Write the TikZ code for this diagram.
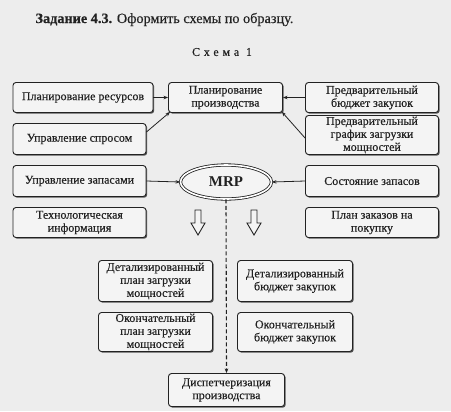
\documentclass[tikz,border=0pt]{standalone}
\usepackage{fontspec}
\setmainfont{Liberation Serif}
\usetikzlibrary{arrows.meta,shapes.geometric,shadows}
\definecolor{paper}{HTML}{EDEDED}
\definecolor{boxfill}{HTML}{F4F4F4}
\definecolor{ink}{HTML}{222222}
\tikzset{
  box/.style={draw=ink, line width=0.9bp, rounded corners=3bp, fill=boxfill,
    align=center, inner sep=0pt, text=ink,
    font=\fontsize{12}{13}\selectfont\addfontfeature{FakeBold=0.4},
    drop shadow={shadow xshift=1.2bp, shadow yshift=-1.2bp, opacity=0.75, fill=ink}},
  conn/.style={draw=ink, line width=0.8bp, -{Stealth[length=4.5bp,width=3.5bp]}},
  hollow/.style={draw=ink, line width=0.9bp, fill=boxfill, line join=miter},
}
\begin{document}
\begin{tikzpicture}[x=1bp,y=-1bp]
\fill[paper] (0,0) rectangle (451,411);
\useasboundingbox (0,0) rectangle (451,411);

\node[anchor=base west, text=ink, font=\fontsize{14.3}{16}\selectfont\addfontfeature{FakeBold=0.3}] (title) at (32,23)
  {\textbf{Задание 4.3.} Оформить схемы по образцу.};
\node[text=ink, font=\fontsize{12}{13}\selectfont\addfontfeature{LetterSpace=32,FakeBold=0.3}] (schema) at (222,52) {Схема 1};

% left column
\node[box, minimum width=140bp, minimum height=30bp] (res) at (83,97.5) {Планирование ресурсов};
\node[box, minimum width=133bp, minimum height=31bp] (demand) at (79.5,139) {Управление спросом};
\node[box, minimum width=133bp, minimum height=31bp] (stock) at (79.5,181) {Управление запасами};
\node[box, minimum width=133bp, minimum height=30bp] (tech) at (79.5,222.5) {Технологическая\\информация};

% centre
\node[box, minimum width=114bp, minimum height=30bp] (prod) at (225.5,97.5) {Планирование\\производства};
\node[draw=ink, ellipse, double, double distance=1.6bp, line width=0.8bp, fill=boxfill,
  minimum width=91bp, minimum height=34bp, inner sep=0pt,
  font=\fontsize{15}{17}\selectfont\bfseries, text=ink] (mrp) at (226,182) {MRP};

% right column
\node[box, minimum width=133bp, minimum height=30bp] (budget0) at (372,97.5) {Предварительный\\бюджет закупок};
\node[box, minimum width=133bp, minimum height=39bp] (sched0) at (372,135) {Предварительный\\график загрузки\\мощностей};
\node[box, minimum width=133bp, minimum height=31bp] (state) at (372,181) {Состояние запасов};
\node[box, minimum width=133bp, minimum height=30bp] (orders) at (372,222.5) {План заказов на\\покупку};

% lower blocks
\node[box, minimum width=114bp, minimum height=41bp] (det1) at (155.5,281) {Детализированный\\план загрузки\\мощностей};
\node[box, minimum width=115bp, minimum height=41bp] (det2) at (295,281) {Детализированный\\бюджет закупок};
\node[box, minimum width=114bp, minimum height=39bp] (fin1) at (155.5,332) {Окончательный\\план загрузки\\мощностей};
\node[box, minimum width=115bp, minimum height=39bp] (fin2) at (295,332) {Окончательный\\бюджет закупок};
\node[box, minimum width=116bp, minimum height=33bp] (disp) at (226.5,390) {Диспетчеризация\\производства};

% connectors
\draw[conn] (res.east) -- (prod.west |- res.east);
\draw[conn] (budget0.west) -- (prod.east |- budget0.west);
\draw[conn] ([yshift=7bp]demand.east) -- ([xshift=2bp,yshift=1bp]prod.south west);
\draw[conn] ([yshift=-3bp]sched0.west) -- ([xshift=-1bp,yshift=1bp]prod.south east);
\draw[conn] (stock.east) -- (mrp.west);
\draw[conn] (state.west) -- (mrp.east);
\draw[draw=ink, line width=1.1bp, dash pattern=on 4bp off 2.5bp,
  -{Stealth[length=4.5bp,width=3.5bp]}] (mrp.south) -- (disp.north);

% hollow down arrows
\draw[hollow] (195,210) -- (201,210) -- (201,223) -- (205,223) -- (198,235)
  -- (191,223) -- (195,223) -- cycle;
\draw[hollow] (251,210) -- (257,210) -- (257,223) -- (261,223) -- (254,235)
  -- (247,223) -- (251,223) -- cycle;
\end{tikzpicture}
\end{document}
